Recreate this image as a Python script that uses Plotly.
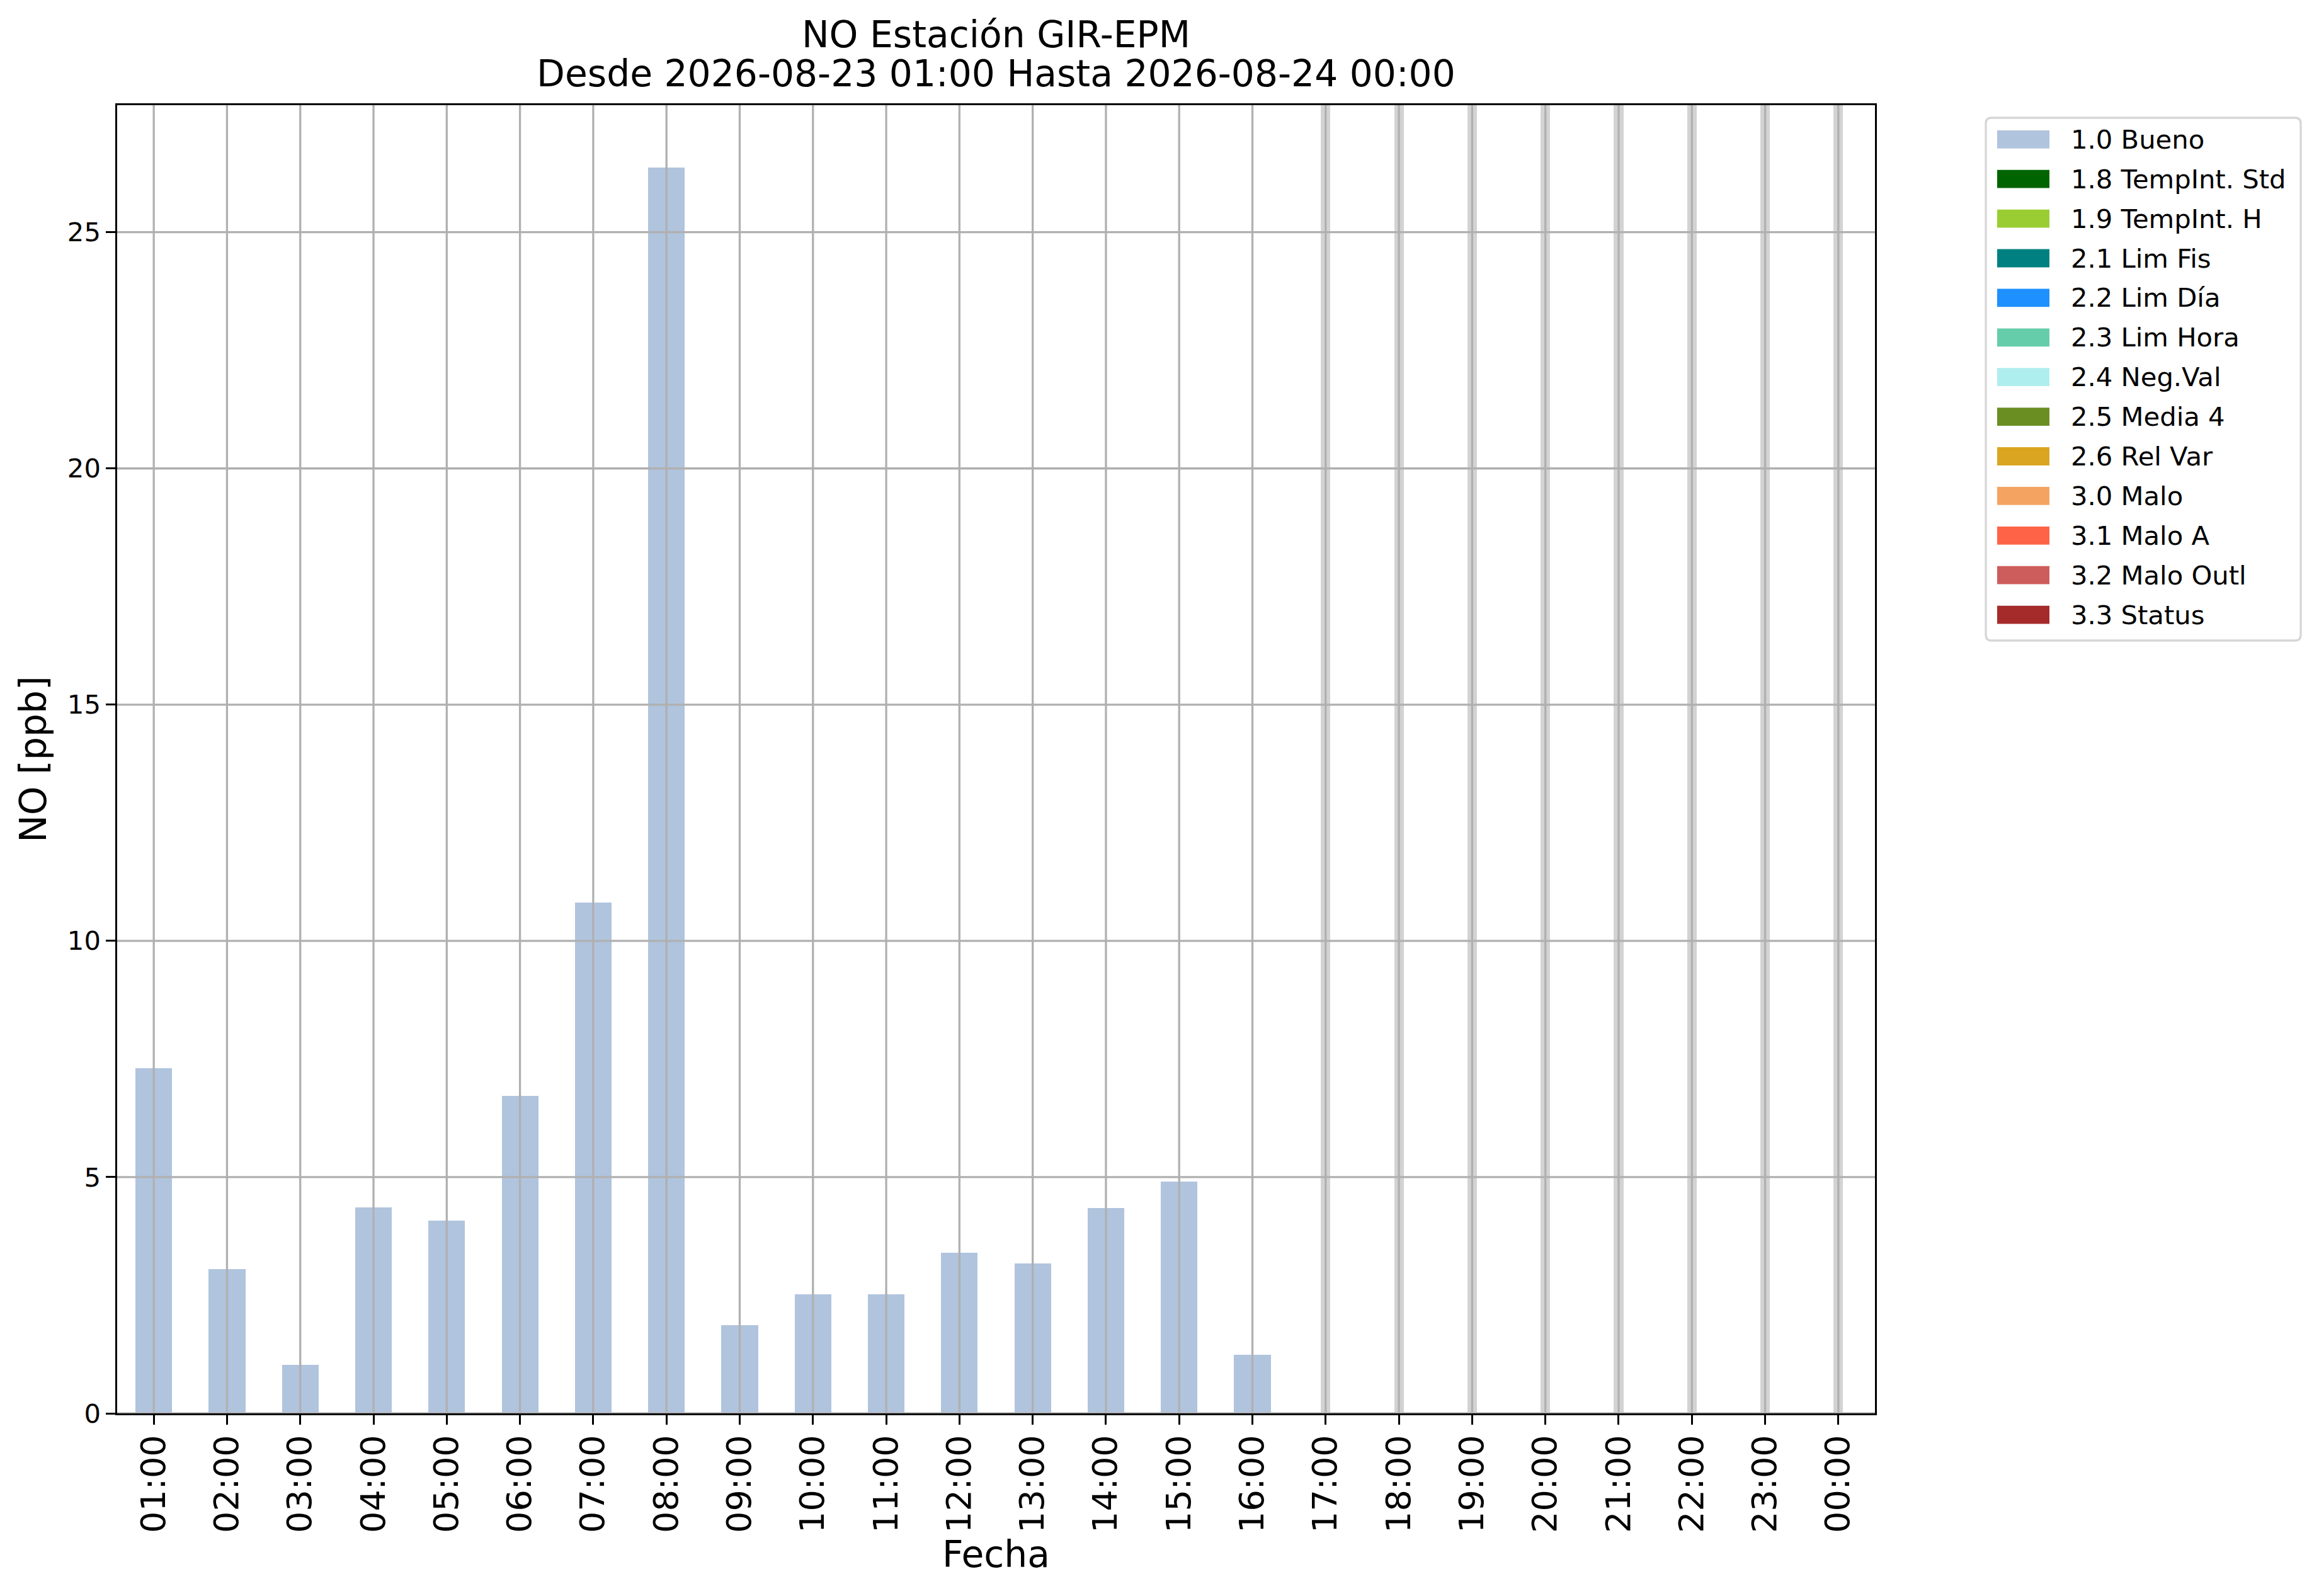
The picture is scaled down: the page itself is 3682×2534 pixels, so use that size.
import plotly.graph_objects as go

# ---------------- data ----------------
hours = ["01:00", "02:00", "03:00", "04:00", "05:00", "06:00", "07:00", "08:00",
         "09:00", "10:00", "11:00", "12:00", "13:00", "14:00", "15:00", "16:00",
         "17:00", "18:00", "19:00", "20:00", "21:00", "22:00", "23:00", "00:00"]
no_bueno = [7.30, 3.05, 1.03, 4.36, 4.08, 6.72, 10.81, 26.37,
            1.86, 2.52, 2.52, 3.40, 3.17, 4.35, 4.91, 1.24,
            None, None, None, None, None, None, None, None]
missing_hours = ["17:00", "18:00", "19:00", "20:00", "21:00", "22:00", "23:00", "00:00"]

legend_labels = ["1.0 Bueno", "1.8 TempInt. Std", "1.9 TempInt. H", "2.1 Lim Fis",
                 "2.2 Lim Día", "2.3 Lim Hora", "2.4 Neg.Val", "2.5 Media 4",
                 "2.6 Rel Var", "3.0 Malo", "3.1 Malo A", "3.2 Malo Outl", "3.3 Status"]
legend_colors = ["#B0C4DE", "#006400", "#9ACD32", "#008080", "#1E90FF", "#66CDAA",
                 "#AFEEEE", "#6B8E23", "#DAA520", "#F4A460", "#FF6347", "#CD5C5C",
                 "#A52A2A"]
ytick_vals = [0, 5, 10, 15, 20, 25]

title_line1 = "NO Estación GIR-EPM"
title_line2 = "Desde 2026-08-23 01:00 Hasta 2026-08-24 00:00"

# ---------------- geometry ----------------
OFF = 8  # default page body margin
W, H = 3682 - OFF, 2534 - OFF
L, R, T, B = 186 - OFF, 705, 167 - OFF, 290
PW, PH = W - L - R, H - T - B
FONT = "DejaVu Sans"
GRID = "#b0b0b0"
LW = 3.3

vals = [v for v in no_bueno if v is not None]
y_top = 1.05 * max(vals)


def px_x(p):
    # p: page pixel (reference coordinates)
    return (p - OFF - L) / PW


def px_y(p):
    return (T + PH - (p - OFF)) / PH


fig = go.Figure()

# missing-data bands
fig.add_trace(go.Bar(
    x=missing_hours, y=[y_top] * len(missing_hours), width=0.13,
    marker=dict(color="#d3d3d3", line=dict(width=0)),
    showlegend=False, hoverinfo="skip"))

# good data bars
fig.add_trace(go.Bar(
    x=hours, y=no_bueno, width=0.5, name=legend_labels[0],
    marker=dict(color=legend_colors[0], line=dict(width=0)),
    showlegend=False))

shapes = []
# grid lines above bars (matplotlib style)
for i, _ in enumerate(hours):
    shapes.append(dict(type="line", xref="x", yref="paper", x0=i, x1=i, y0=0, y1=1,
                       line=dict(color=GRID, width=LW), layer="above"))
for v in ytick_vals:
    shapes.append(dict(type="line", xref="paper", yref="y", x0=0, x1=1, y0=v, y1=v,
                       line=dict(color=GRID, width=LW), layer="above"))

# manual legend (matplotlib look)
bx0, bx1, by0, by1 = 3153, 3653, 187, 1017
r = 9
path = (f"M{px_x(bx0 + r)},{px_y(by0)} L{px_x(bx1 - r)},{px_y(by0)} "
        f"Q{px_x(bx1)},{px_y(by0)} {px_x(bx1)},{px_y(by0 + r)} "
        f"L{px_x(bx1)},{px_y(by1 - r)} Q{px_x(bx1)},{px_y(by1)} {px_x(bx1 - r)},{px_y(by1)} "
        f"L{px_x(bx0 + r)},{px_y(by1)} Q{px_x(bx0)},{px_y(by1)} {px_x(bx0)},{px_y(by1 - r)} "
        f"L{px_x(bx0)},{px_y(by0 + r)} Q{px_x(bx0)},{px_y(by0)} {px_x(bx0 + r)},{px_y(by0)} Z")
shapes.append(dict(type="path", xref="paper", yref="paper", path=path,
                   line=dict(color="#d6d6d6", width=LW), fillcolor="white", layer="above"))

annotations = []
for i, (lab, col) in enumerate(zip(legend_labels, legend_colors)):
    cy = 221.3 + 62.9 * i
    shapes.append(dict(type="rect", xref="paper", yref="paper",
                       x0=px_x(3171), x1=px_x(3254), y0=px_y(cy - 14.4), y1=px_y(cy + 14.4),
                       fillcolor=col, line=dict(width=0), layer="above"))
    annotations.append(dict(text=lab, xref="paper", yref="paper", x=px_x(3286), y=px_y(cy),
                            xanchor="left", yanchor="middle", showarrow=False,
                            font=dict(family=FONT, size=41.7, color="black")))

# second title line
annotations.append(dict(text=title_line2, xref="paper", yref="paper", x=0.5,
                        y=px_y(153), xanchor="center", yanchor="bottom", showarrow=False,
                        font=dict(family=FONT, size=58.3, color="black")))

fig.update_layout(
    width=W, height=H,
    margin=dict(l=L, r=R, t=T, b=B, autoexpand=False),
    paper_bgcolor="white", plot_bgcolor="white",
    barmode="overlay", bargap=0,
    showlegend=False,
    title=dict(text=title_line1, x=0.5, xref="paper", xanchor="center",
               y=1 - (75 - OFF) / H, yref="container", yanchor="bottom",
               font=dict(family=FONT, size=58.3, color="black")),
    font=dict(family=FONT, color="black"),
    shapes=shapes, annotations=annotations,
)

fig.update_xaxes(
    type="category", categoryorder="array", categoryarray=hours,
    range=[-0.5, len(hours) - 0.5],
    showgrid=False, zeroline=False,
    showline=True, mirror=True, linecolor="black", linewidth=LW,
    ticks="outside", ticklen=14.6, tickwidth=LW, tickcolor="black",
    tickangle=-90, tickfont=dict(family=FONT, size=54, color="black"),
    ticklabelstandoff=-5,
    title=dict(text="Fecha", font=dict(family=FONT, size=58.3, color="black"), standoff=12),
    layer="above traces",
)
fig.update_yaxes(
    range=[0, y_top], tickvals=ytick_vals,
    showgrid=False, zeroline=False,
    showline=True, mirror=True, linecolor="black", linewidth=LW,
    ticks="outside", ticklen=14.6, tickwidth=LW, tickcolor="black",
    tickfont=dict(family=FONT, size=41.7, color="black"),
    title=dict(text="NO [ppb]", font=dict(family=FONT, size=58.3, color="black"), standoff=15),
    layer="above traces",
)

fig.write_html("out.html")
